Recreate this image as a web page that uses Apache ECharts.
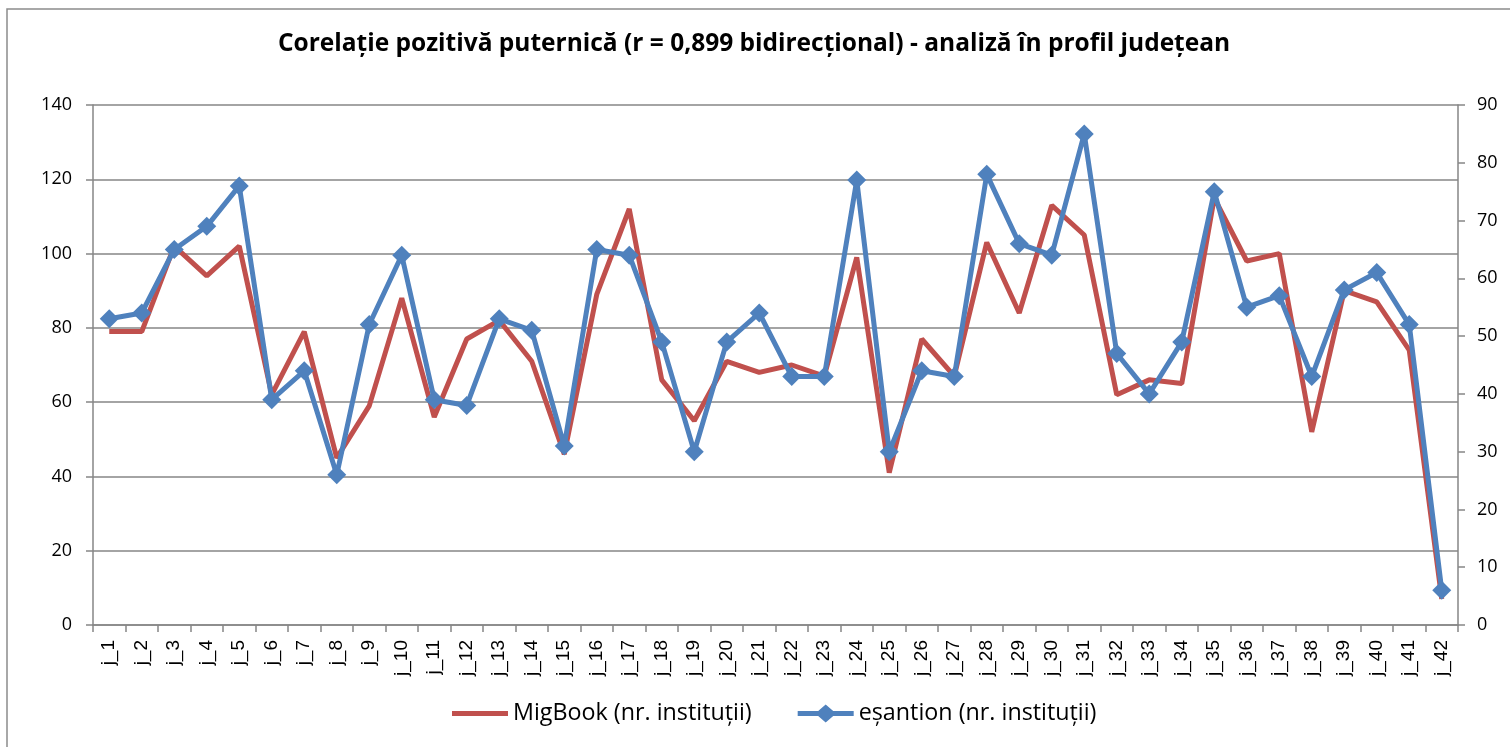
<!DOCTYPE html>
<html><head><meta charset="utf-8">
<script src="https://cdn.jsdelivr.net/npm/echarts@6/dist/echarts.min.js"></script>
<style>html,body{margin:0;padding:0;background:#fff}#c{width:1510px;height:747px}</style>
</head><body><div id="c"></div>
<script>
const categories = ['j_1','j_2','j_3','j_4','j_5','j_6','j_7','j_8','j_9','j_10','j_11','j_12','j_13','j_14','j_15','j_16','j_17','j_18','j_19','j_20','j_21','j_22','j_23','j_24','j_25','j_26','j_27','j_28','j_29','j_30','j_31','j_32','j_33','j_34','j_35','j_36','j_37','j_38','j_39','j_40','j_41','j_42'];
const migbook = [79,79,102,94,102,62,79,45,59,88,56,77,82,71,46,89,112,66,55,71,68,70,67,99,41,77,67,103,84,113,105,62,66,65,115,98,100,52,90,87,74,7];
const esantion = [53,54,65,69,76,39,44,26,52,64,39,38,53,51,31,65,64,49,30,49,54,43,43,77,30,44,43,78,66,64,85,47,40,49,75,55,57,43,58,61,52,6];
const titleText = 'Corelație pozitivă puternică (r = 0,899 bidirecțional) - analiză în profil județean';
const seriesNames = ['MigBook (nr. instituții)', 'eșantion (nr. instituții)'];

const FONT = '"Open Sans", "Noto Sans", sans-serif';
const XFONT = '"Liberation Sans", Arial, sans-serif';
const chart = echarts.init(document.getElementById('c'));
chart.setOption({
  animation: false,
  backgroundColor: '#fff',
  textStyle: {fontFamily: FONT},
  graphic: [{type:'rect', shape:{x:7,y:9,width:1520,height:760}, style:{fill:'none', stroke:'#8c8c8c', lineWidth:1.5}, silent:true}],
  title: {text: titleText, left: 749, textAlign: 'center', top: 27,
    textStyle:{fontFamily: FONT, fontWeight:'bold', fontSize:24.5, color:'#000'}},
  legend: {top: 697, left: 447, itemGap: 46, itemWidth: 56, itemHeight: 18,
    textStyle:{fontFamily: FONT, fontSize:23.3, color:'#000'},
    data: [
      {name: seriesNames[0], icon:'path://M0,6.5 L56,6.5 L56,11.5 L0,11.5 Z'},
      {name: seriesNames[1], icon:'path://M0,6.5 L20.5,6.5 L28,0 L35.5,6.5 L56,6.5 L56,11.5 L35.5,11.5 L28,18 L20.5,11.5 L0,11.5 Z'}
    ]},
  grid: {left: 93, right: 52, top: 105, bottom: 122, containLabel: false},
  xAxis: {type:'category', data: categories, boundaryGap: true,
    axisLine:{lineStyle:{color:'#868686', width:1.5}},
    axisTick:{show:true, inside:false, length:7, lineStyle:{color:'#868686', width:1.5}},
    axisLabel:{rotate:90, interval:0, fontSize:19, fontFamily: XFONT, color:'#000', margin:15}},
  yAxis: [
    {type:'value', min:0, max:140, interval:20, position:'left',
      axisLine:{show:true, lineStyle:{color:'#868686', width:1.5}},
      axisTick:{show:true, length:7, lineStyle:{color:'#868686', width:1.5}},
      axisLabel:{fontSize:18, color:'#000', margin:21},
      splitLine:{show:true, lineStyle:{color:'#868686', width:1.5}}},
    {type:'value', min:0, max:90, interval:10, position:'right',
      axisLine:{show:true, lineStyle:{color:'#868686', width:1.5}},
      axisTick:{show:true, length:7, lineStyle:{color:'#868686', width:1.5}},
      axisLabel:{fontSize:18, color:'#000', margin:19},
      splitLine:{show:false}}
  ],
  series: [
    {name: seriesNames[0], type:'line', yAxisIndex:0, data: migbook, showSymbol:false, symbol:'none',
      lineStyle:{color:'#C0504D', width:5}, itemStyle:{color:'#C0504D'}},
    {name: seriesNames[1], type:'line', yAxisIndex:1, data: esantion, symbol:'diamond', symbolSize:19,
      lineStyle:{color:'#4F81BD', width:5}, itemStyle:{color:'#4F81BD'}}
  ]
});
</script></body></html>
